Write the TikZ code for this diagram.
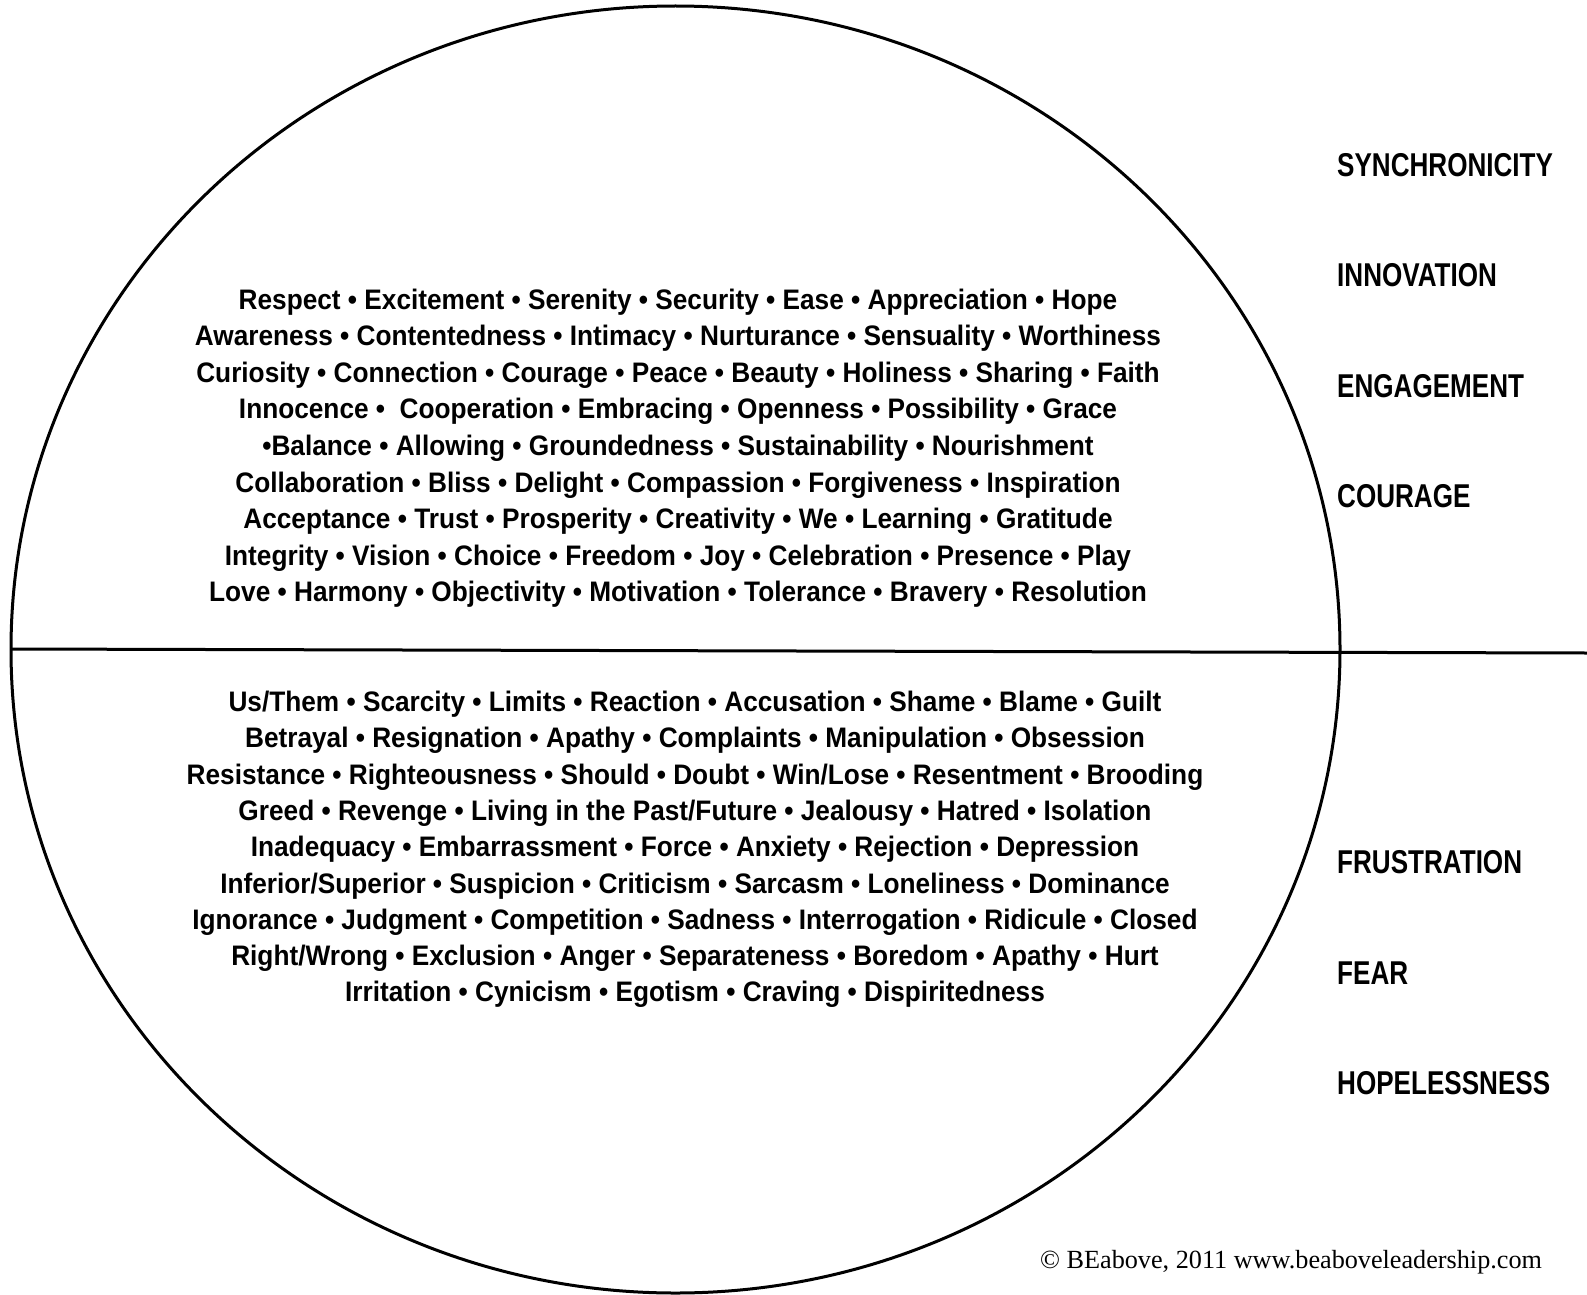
\documentclass[tikz,border=0pt]{standalone}
\usepackage{fontspec}
\setmainfont{Liberation Sans}
\newfontfamily\ListFont[FakeStretch=0.93]{Liberation Sans}
\newfontfamily\LevelFont[FakeStretch=0.79]{Liberation Sans}
\newfontfamily\NoteFont{Liberation Serif}
\usepackage{tikz}
\tikzstyle{Rim}=[black,line width=3pt]
\tikzstyle{WordLine}=[anchor=base,inner sep=0pt,font=\ListFont\bfseries\fontsize{28.2}{34}\selectfont]
\tikzstyle{LevelLabel}=[anchor=base west,inner sep=0pt,font=\LevelFont\bfseries\fontsize{33}{39}\selectfont]
\tikzstyle{NoteText}=[anchor=base west,inner sep=0pt,font=\NoteFont\fontsize{26.2}{31}\selectfont]
\begin{document}
\begin{tikzpicture}[x=1pt,y=-1pt]
        \useasboundingbox(0,0)rectangle(1587,1295);
        % outer ring and the dividing line
        \draw[Rim](675.5,649.5)ellipse[x radius=664.5,y radius=643.5];
        \coordinate(rimW)at(11,649);
        \coordinate(edgeE)at(1587,653);
        \draw[Rim](rimW)--(edgeE);
        % upper half
        \node[WordLine](up1)at(678,309){Respect • Excitement • Serenity • Security • Ease • Appreciation • Hope};
        \node[WordLine](up2)at(678,345.6){Awareness • Contentedness • Intimacy • Nurturance • Sensuality • Worthiness};
        \node[WordLine](up3)at(678,382.2){Curiosity • Connection • Courage • Peace • Beauty • Holiness • Sharing • Faith};
        \node[WordLine](up4)at(678,418.8){Innocence • \ Cooperation • Embracing • Openness • Possibility • Grace};
        \node[WordLine](up5)at(678,455.4){•Balance • Allowing • Groundedness • Sustainability • Nourishment};
        \node[WordLine](up6)at(678,492){Collaboration • Bliss • Delight • Compassion • Forgiveness • Inspiration};
        \node[WordLine](up7)at(678,528.6){Acceptance • Trust • Prosperity • Creativity • We • Learning • Gratitude};
        \node[WordLine](up8)at(678,565.2){Integrity • Vision • Choice • Freedom • Joy • Celebration • Presence • Play};
        \node[WordLine](up9)at(678,601.8){Love • Harmony • Objectivity • Motivation • Tolerance • Bravery • Resolution};
        % lower half
        \node[WordLine](low1)at(695,711.5){Us/Them • Scarcity • Limits • Reaction • Accusation • Shame • Blame • Guilt};
        \node[WordLine](low2)at(695,747.8){Betrayal • Resignation • Apathy • Complaints • Manipulation • Obsession};
        \node[WordLine](low3)at(695,784.1){Resistance • Righteousness • Should • Doubt • Win/Lose • Resentment • Brooding};
        \node[WordLine](low4)at(695,820.4){Greed • Revenge • Living in the Past/Future • Jealousy • Hatred • Isolation};
        \node[WordLine](low5)at(695,856.7){Inadequacy • Embarrassment • Force • Anxiety • Rejection • Depression};
        \node[WordLine](low6)at(695,893){Inferior/Superior • Suspicion • Criticism • Sarcasm • Loneliness • Dominance};
        \node[WordLine](low7)at(695,929.3){Ignorance • Judgment • Competition • Sadness • Interrogation • Ridicule • Closed};
        \node[WordLine](low8)at(695,965.6){Right/Wrong • Exclusion • Anger • Separateness • Boredom • Apathy • Hurt};
        \node[WordLine](low9)at(695,1001.9){Irritation • Cynicism • Egotism • Craving • Dispiritedness};
        % levels on the right
        \node[LevelLabel](synch)at(1337,176){SYNCHRONICITY};
        \node[LevelLabel](innov)at(1337,286.5){INNOVATION};
        \node[LevelLabel](engage)at(1337,397){ENGAGEMENT};
        \node[LevelLabel](courage)at(1337,507.5){COURAGE};
        \node[LevelLabel](frust)at(1337,873.5){FRUSTRATION};
        \node[LevelLabel](fear)at(1337,984){FEAR};
        \node[LevelLabel](hopeless)at(1337,1094.5){HOPELESSNESS};
        \node[NoteText](note)at(1040,1268){© BEabove, 2011 www.beaboveleadership.com};
    \end{tikzpicture}
\end{document}
